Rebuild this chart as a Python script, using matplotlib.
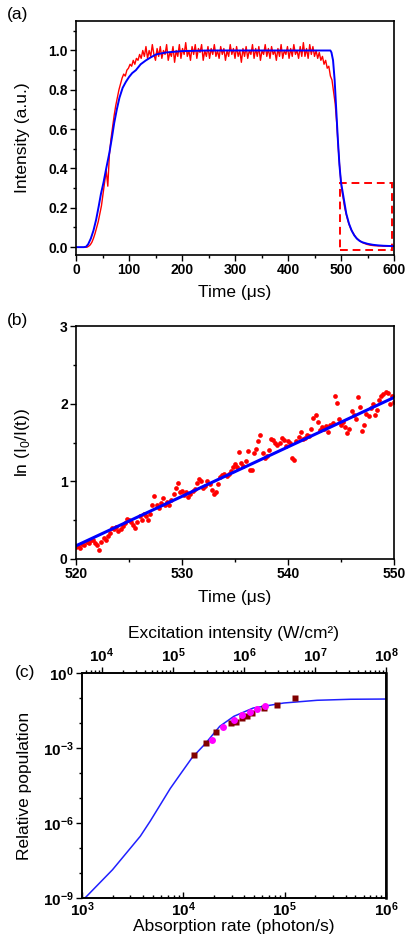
import matplotlib
matplotlib.use('Agg')
import matplotlib.pyplot as plt
import matplotlib.ticker as mticker
import numpy as np

plt.rcParams['font.family'] = ['Liberation Sans', 'DejaVu Sans']
plt.rcParams['mathtext.fontset'] = 'custom'
plt.rcParams['mathtext.rm'] = 'Liberation Sans'
plt.rcParams['mathtext.bf'] = 'Liberation Sans:bold'

# ---- (a) rise / decay trace ----
t_meas = np.arange(18, 601, 3)
i_meas = [
    0.00, 0.00, 0.005, 0.012, 0.025, 0.045, 0.07, 0.10, 0.13, 0.17,
    0.21, 0.27, 0.33, 0.39, 0.31, 0.47, 0.55, 0.61, 0.67, 0.72,
    0.76, 0.80, 0.83, 0.86, 0.88, 0.87, 0.90, 0.91, 0.93, 0.92,
    0.95, 0.93, 0.96, 0.95, 0.98, 0.96, 1.00, 0.97,
    1.02, 0.96, 1.00, 0.97, 1.03, 0.98, 0.95, 1.01, 0.97, 1.02,
    0.96, 1.00, 0.98, 1.03, 0.95, 0.99, 0.97, 1.02, 0.94, 1.00,
    0.97, 1.03, 0.96, 1.01, 0.98, 1.04, 0.97, 1.00, 0.95, 1.02,
    0.98, 1.03, 0.96, 1.01, 0.99, 1.03, 0.95, 1.00, 0.97, 1.02,
    0.96, 1.01, 0.98, 1.03, 0.97, 1.00, 0.96, 1.02, 0.98, 1.01,
    0.95, 1.00, 0.97, 1.03, 0.98, 1.01, 0.96, 1.02, 0.97, 1.00,
    0.94, 1.01, 0.97, 1.02, 0.96, 1.00, 0.98, 1.03, 0.96, 1.01,
    0.97, 1.02, 0.95, 1.00, 0.98, 1.03, 0.97, 1.01, 0.96, 1.02,
    0.98, 1.00, 0.95, 1.01, 0.97, 1.03, 0.96, 1.00, 0.98, 1.02,
    0.96, 1.01, 0.97, 1.03, 0.98, 1.00, 0.96, 1.02, 0.97, 1.04,
    0.97, 1.01, 0.96, 1.03, 0.98, 1.02, 0.97,
    1.00, 0.96, 0.99, 0.95, 0.97, 0.93, 0.95, 0.91, 0.92, 0.87,
    0.85, 0.79, 0.73, 0.63, 0.50, 0.39, 0.30, 0.25, 0.20, 0.165,
    0.135, 0.11, 0.09, 0.075, 0.062, 0.05, 0.042, 0.035, 0.029, 0.024,
    0.02, 0.017, 0.014, 0.012, 0.01, 0.009, 0.008, 0.007, 0.007, 0.006,
    0.006, 0.006, 0.005, 0.005, 0.005, 0.005, 0.005, 0.004, 0.004, 0.004,
]

t_fit = [0, 15, 19, 23, 28, 33, 38, 43, 47, 52, 57, 63, 68, 72, 77, 82, 88,
         94, 100, 106, 113, 122, 132, 141, 151, 170, 200, 250, 480, 482,
         485, 488, 491, 494, 497, 500, 505, 510, 515, 520, 525, 530, 535,
         540, 550, 560, 570, 580, 590, 600]
i_fit = [0, 0, 0.002, 0.015, 0.044, 0.085, 0.14, 0.21, 0.27, 0.33, 0.40,
         0.48, 0.56, 0.63, 0.70, 0.76, 0.81, 0.84, 0.865, 0.885, 0.90, 0.93,
         0.95, 0.965, 0.98, 0.99, 0.997, 1.0, 1.0, 0.99, 0.95, 0.85,
         0.70, 0.55, 0.42, 0.33, 0.25, 0.17, 0.12, 0.085, 0.06, 0.043,
         0.032, 0.025, 0.017, 0.012, 0.009, 0.007, 0.006, 0.005]

# ---- (b) ln(I0/I) in the decay window ----
t_b = np.arange(520, 550.01, 0.2)
ln_b = [
    0.15, 0.17, 0.14, 0.19, 0.18, 0.22, 0.21, 0.25, 0.24, 0.20,
    0.18, 0.12, 0.22, 0.27, 0.25, 0.30, 0.33, 0.40, 0.38, 0.41,
    0.36, 0.38, 0.42, 0.46, 0.52, 0.50, 0.48, 0.44, 0.40, 0.47,
    0.55, 0.50, 0.58, 0.55, 0.50, 0.58, 0.69, 0.81, 0.70, 0.66,
    0.72, 0.78, 0.70, 0.74, 0.69, 0.76, 0.84, 0.92, 0.98, 0.86,
    0.88, 0.83, 0.86, 0.80, 0.84, 0.88, 0.90, 0.98, 1.03, 1.01,
    0.92, 0.94, 1.00, 0.97, 0.89, 0.84, 0.86, 0.97, 1.05, 1.08,
    1.09, 1.07, 1.10, 1.13, 1.18, 1.22, 1.19, 1.38, 1.23, 1.20,
    1.26, 1.39, 1.14, 1.15, 1.36, 1.42, 1.52, 1.60, 1.37, 1.30,
    1.33, 1.40, 1.55, 1.53, 1.50, 1.47, 1.49, 1.56, 1.53, 1.46,
    1.52, 1.49, 1.30, 1.27, 1.52, 1.57, 1.64, 1.54, 1.56, 1.60,
    1.58, 1.68, 1.82, 1.85, 1.77, 1.66, 1.70, 1.68, 1.71, 1.64,
    1.73, 1.75, 2.10, 2.01, 1.80, 1.72, 1.76, 1.70, 1.62, 1.67,
    1.90, 1.86, 1.80, 2.08, 1.96, 1.65, 1.73, 1.87, 1.84, 1.95,
    2.00, 1.85, 1.92, 2.05, 2.10, 2.13, 2.15, 2.14, 1.99, 2.10,
    2.02,
]
fit_b_t = [520, 550]
fit_b_y = [0.17, 2.08]

# ---- (c) relative population vs absorption rate ----
rate_model = [1.07e3, 2.0e3, 3.76e3, 4.72e3, 7.43e3, 9.33e3, 1.213e4,
              1.644e4, 2.29e4, 3.16e4, 4.9e4, 9.77e4, 2.09e5, 4.47e5, 1e6]
pop_model = [1e-9, 1.35e-8, 2.95e-7, 1.2e-6, 2.4e-5, 8.9e-5, 3.98e-4,
             1.48e-3, 7.4e-3, 1.86e-2, 3.98e-2, 6.3e-2, 8.1e-2, 8.9e-2, 9.1e-2]
rate_sq = [1.26e4, 1.66e4, 2.09e4, 2.94e4, 3.31e4, 3.78e4, 4.23e4, 4.73e4,
           6.27e4, 8.36e4, 1.26e5]
pop_sq = [5.2e-4, 1.6e-3, 4.5e-3, 9.8e-3, 1.07e-2, 1.55e-2, 1.9e-2, 2.45e-2,
          3.9e-2, 5.2e-2, 9.8e-2]
rate_ci = [1.9e4, 2.48e4, 3.16e4, 3.82e4, 4.55e4, 5.3e4, 6.4e4]
pop_ci = [2.1e-3, 6.8e-3, 1.32e-2, 2.1e-2, 2.7e-2, 3.55e-2, 4.8e-2]

fig = plt.figure(figsize=(4.09, 9.41), dpi=100)
W, H = 409, 941


def px_axes(l, t, r, b):
    return fig.add_axes([l / W, 1 - b / H, (r - l) / W, (b - t) / H])


def style(ax, size=10):
    for s in ax.spines.values():
        s.set_linewidth(1.2)
    ax.tick_params(which='both', direction='out', width=1, labelsize=size, pad=2)
    ax.tick_params(which='major', length=4)
    ax.tick_params(which='minor', length=2.5)


def sci(exps):
    return ['$\\mathbf{10^{%d}}$' % e for e in exps]


# (a)
ax1 = px_axes(76, 21, 394, 255)
ax1.plot(t_meas, i_meas, color='#ff0000', lw=1.0)
ax1.plot(t_fit, i_fit, color='#0000ff', lw=1.4)
ax1.add_patch(plt.Rectangle((499, -0.015), 98, 0.343, fill=False,
                            ec='#ff0000', ls=(0, (4, 2.5)), lw=1.4))
ax1.set_xlim(0, 600)
ax1.set_ylim(-0.04, 1.15)
ax1.set_xticks([0, 100, 200, 300, 400, 500, 600],
               ['0', '100', '200', '300', '400', '500', '600'], fontweight='bold')
ax1.set_yticks([0, 0.2, 0.4, 0.6, 0.8, 1.0],
               ['0.0', '0.2', '0.4', '0.6', '0.8', '1.0'], fontweight='bold')
ax1.xaxis.set_minor_locator(mticker.MultipleLocator(50))
ax1.yaxis.set_minor_locator(mticker.MultipleLocator(0.1))
style(ax1)
ax1.set_xlabel('Time (μs)', fontsize=12.5, va='center')
ax1.set_ylabel('Intensity (a.u.)', fontsize=12.5, va='center')
ax1.xaxis.set_label_coords(0.5, -0.162)
ax1.yaxis.set_label_coords(-0.167, 0.5)
fig.text(18 / W, 1 - 15 / H, '(a)', fontsize=12.5, ha='center', va='center')

# (b)
ax2 = px_axes(76, 326, 394, 559)
ax2.plot(t_b, ln_b, 'o', color='#ff0000', ms=3.4, mec='none')
ax2.plot(fit_b_t, fit_b_y, color='#0000ff', lw=2.2)
ax2.set_xlim(520, 550)
ax2.set_ylim(0, 3)
ax2.set_xticks([520, 530, 540, 550], ['520', '530', '540', '550'], fontweight='bold')
ax2.set_yticks([0, 1, 2, 3], ['0', '1', '2', '3'], fontweight='bold')
ax2.xaxis.set_minor_locator(mticker.MultipleLocator(5))
ax2.yaxis.set_minor_locator(mticker.MultipleLocator(0.5))
style(ax2)
ax2.set_xlabel('Time (μs)', fontsize=12.5, va='center')
ax2.set_ylabel('ln (I$_\\mathregular{0}$/I(t))', fontsize=12.5, va='center')
ax2.xaxis.set_label_coords(0.5, -0.167)
ax2.yaxis.set_label_coords(-0.167, 0.5)
fig.text(18 / W, 1 - 321 / H, '(b)', fontsize=12.5, ha='center', va='center')

# (c)
ax3 = px_axes(82, 673, 386, 898)
ax3.plot(rate_model, pop_model, color='#2020ff', lw=1.1)
ax3.plot(rate_sq, pop_sq, 's', color='#800000', ms=4.5, mec='none')
ax3.plot(rate_ci, pop_ci, 'o', color='#ff00ff', ms=5, mec='none')
ax3.set_xscale('log')
ax3.set_yscale('log')
ax3.set_xlim(1e3, 1e6)
ax3.set_ylim(1e-9, 1)
ax3.set_xticks([1e3, 1e4, 1e5, 1e6], sci([3, 4, 5, 6]))
ax3.xaxis.set_minor_locator(mticker.LogLocator(base=10, subs=np.arange(2, 10)))
ax3.xaxis.set_minor_formatter(mticker.NullFormatter())
ax3.set_yticks([1e-9, 1e-6, 1e-3, 1], sci([-9, -6, -3, 0]))
ax3.yaxis.set_minor_locator(mticker.FixedLocator([10.0 ** k for k in range(-9, 1)]))
ax3.yaxis.set_minor_formatter(mticker.NullFormatter())
style(ax3, 11)
ax3.tick_params(axis='x', which='both', direction='in', pad=2)
ax3.spines['right'].set_linewidth(1.8)
ax3.set_xlabel('Absorption rate (photon/s)', fontsize=12.5, va='center')
ax3.set_ylabel('Relative population', fontsize=12.5, va='center')
ax3.xaxis.set_label_coords(0.5, -0.125)
ax3.yaxis.set_label_coords(-0.1875, 0.5)

ax4 = ax3.twiny()
ax4.set_xscale('log')
ax4.set_xlim(10 ** 3.72, 1e8)
ax4.set_xticks([1e4, 1e5, 1e6, 1e7, 1e8], sci([4, 5, 6, 7, 8]))
ax4.xaxis.set_minor_locator(mticker.LogLocator(base=10, subs=np.arange(2, 10)))
ax4.xaxis.set_minor_formatter(mticker.NullFormatter())
style(ax4, 11)
ax4.set_xlabel('Excitation intensity (W/cm²)', fontsize=12.5, va='center')
ax4.xaxis.set_label_coords(0.5, 1.175)
fig.text(25 / W, 1 - 673 / H, '(c)', fontsize=12.5, ha='center', va='center')

plt.savefig('out.png', dpi=100)
print('Saved to out.png')
